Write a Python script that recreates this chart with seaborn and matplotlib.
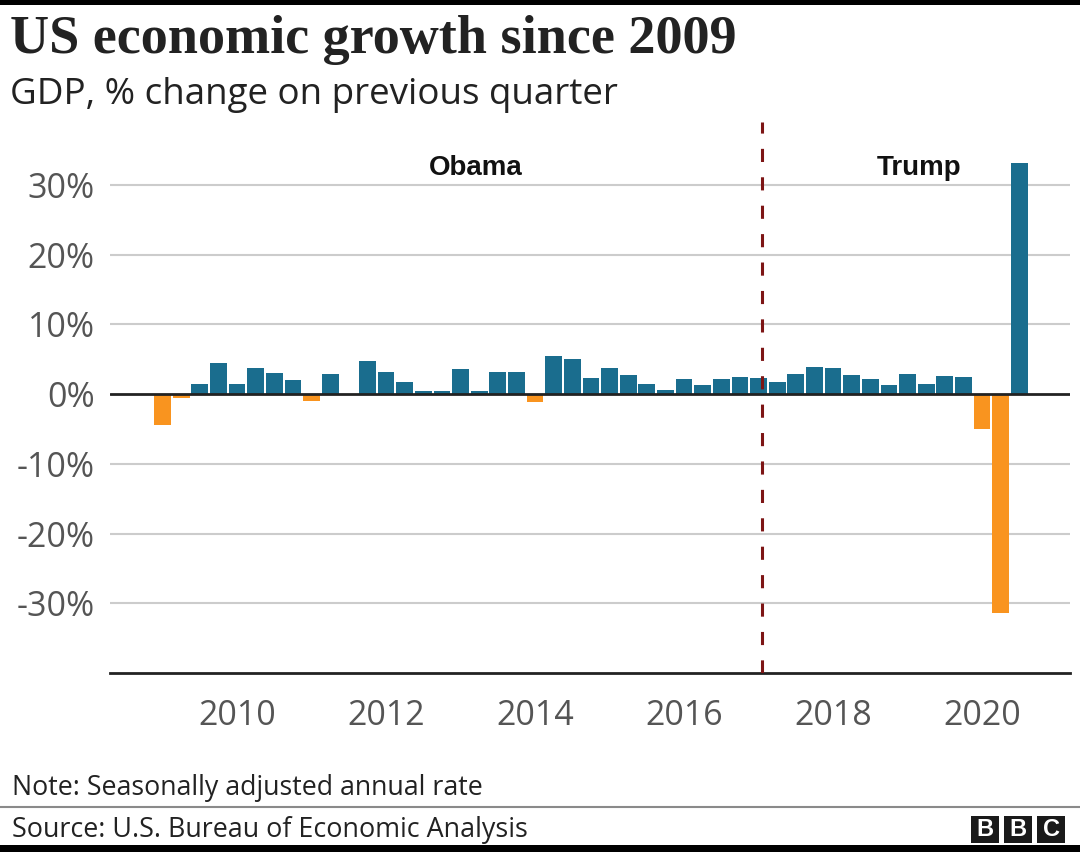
import numpy as np
import pandas as pd
import matplotlib
matplotlib.use("Agg")
import matplotlib.pyplot as plt
from matplotlib.patches import Rectangle
from matplotlib.lines import Line2D
import seaborn as sns

# quarterly GDP, % change (seasonally adjusted annual rate), 2009Q1 - 2020Q3
quarters = pd.period_range("2009Q1", "2020Q3", freq="Q")
gdp = [-4.4, -0.6, 1.5, 4.5,
       1.5, 3.7, 3.0, 2.0,
       -1.0, 2.9, -0.1, 4.7,
       3.2, 1.7, 0.5, 0.5,
       3.6, 0.5, 3.2, 3.2,
       -1.1, 5.5, 5.0, 2.3,
       3.8, 2.7, 1.5, 0.6,
       2.2, 1.3, 2.2, 2.5,
       2.3, 1.7, 2.9, 3.9,
       3.8, 2.7, 2.1, 1.3,
       2.9, 1.5, 2.6, 2.4,
       -5.0, -31.4, 33.1]
year_ticks = [2010, 2012, 2014, 2016, 2018, 2020]
pct_ticks = [-30, -20, -10, 0, 10, 20, 30]
inauguration = 2017.05
presidents = ["Obama", "Trump"]
president_x = [2013.2, 2019.15]

blue = "#1a6d8e"
orange = "#f9941f"

df = pd.DataFrame({
    "pos": [q.year + (q.quarter - 1) / 4 for q in quarters],
    "gdp": gdp,
})
df["sign"] = np.where(df["gdp"] < 0, "neg", "pos")

sns.set_style("white")
plt.rcParams["font.family"] = ["Open Sans", "DejaVu Sans"]

fig = plt.figure(figsize=(10.8, 8.52), dpi=100)
ax = fig.add_axes([110 / 1080, 1 - 673 / 852, 960 / 1080, (673 - 122) / 852])

sns.barplot(data=df, x="pos", y="gdp", hue="sign",
            palette={"pos": blue, "neg": orange},
            native_scale=True, dodge=False, width=0.9, saturation=1,
            errorbar=None, legend=False, linewidth=0, ax=ax)

ax.set_xlim(2008.295, 2021.18)
ax.set_ylim(-40, 39)

# grid + zero line
for v in pct_ticks:
    if v != 0:
        ax.axhline(v, color="#cccccc", lw=1.5, zorder=0)
ax.axhline(0, color="#222222", lw=2, zorder=3)
ax.axvline(inauguration, color="#7d1515", lw=2.2, ls=(0, (4.3, 5)), zorder=4)

for name, xp in zip(presidents, president_x):
    ax.text(xp, 32.4, name, ha="center", va="center", fontsize=20,
            fontweight="bold", family=["Liberation Sans", "DejaVu Sans"], color="#111111")

for s in ["left", "top", "right"]:
    ax.spines[s].set_visible(False)
ax.spines["bottom"].set_color("#222222")
ax.spines["bottom"].set_linewidth(2)

ax.set_xticks(year_ticks)
ax.set_xticklabels([str(y) for y in year_ticks])
ax.set_yticks(pct_ticks)
ax.set_yticklabels([f"{v}%" for v in pct_ticks])
ax.tick_params(axis="x", direction="out", length=10, width=1.2, color="#333333",
               pad=9, labelsize=24.5, labelcolor="#555555")
ax.tick_params(axis="y", length=0, pad=11, labelsize=24.5, labelcolor="#555555")
ax.set_xlabel("")
ax.set_ylabel("")

# titles and footer
fig.text(10 / 1080, 1 - 53 / 852, "US economic growth since 2009", fontsize=39,
         fontweight="bold", family=["Liberation Serif", "DejaVu Serif"],
         color="#222222", va="baseline")
fig.text(10 / 1080, 1 - 104 / 852, "GDP, % change on previous quarter", fontsize=26.5,
         color="#222222", va="baseline")
fig.text(12 / 1080, 1 - 795 / 852, "Note: Seasonally adjusted annual rate", fontsize=19.3,
         color="#222222", va="baseline")
fig.text(12 / 1080, 1 - 837 / 852, "Source: U.S. Bureau of Economic Analysis", fontsize=19.4,
         color="#222222", va="baseline")

fig.add_artist(Line2D([0, 1], [1 - 807 / 852] * 2, color="#8a8a8a", lw=1.5))
fig.add_artist(Rectangle((0, 1 - 5 / 852), 1, 5 / 852, color="black", lw=0))
fig.add_artist(Rectangle((0, 0), 1, 7 / 852, color="black", lw=0))

for i, letter in enumerate("BBC"):
    x0 = 971 + i * 33
    fig.add_artist(Rectangle((x0 / 1080, 1 - 843 / 852), 28 / 1080, 27 / 852,
                             color="#1a1a1a", lw=0))
    fig.text((x0 + 14) / 1080, 1 - 829.5 / 852, letter, ha="center", va="center",
             fontsize=17, fontweight="bold", color="white",
             family=["Liberation Sans", "DejaVu Sans"])

fig.savefig("out.png", dpi=100)
